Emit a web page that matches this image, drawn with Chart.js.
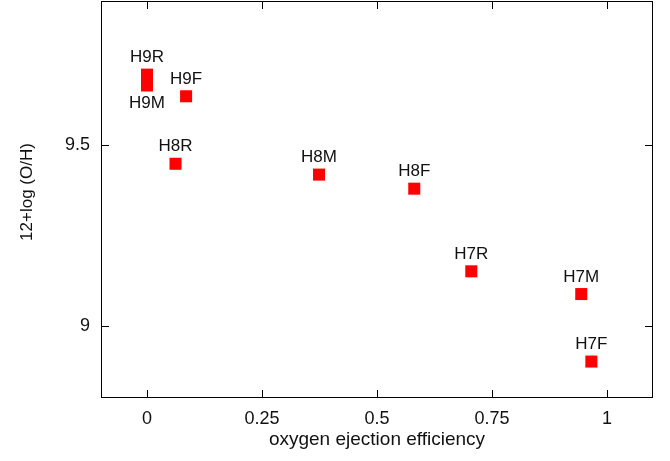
<!DOCTYPE html>
<html>
<head>
<meta charset="utf-8">
<script src="https://cdn.jsdelivr.net/npm/chart.js@4"></script>
<style>
  html, body { margin: 0; padding: 0; background: #fff; }
  #wrap { width: 670px; height: 461px; }
</style>
</head>
<body>
<div id="wrap"><canvas id="chart" width="670" height="461"></canvas></div>
<script>
// values
const runNames = ['H9R', 'H9M', 'H9F', 'H8R', 'H8M', 'H8F', 'H7R', 'H7M', 'H7F'];
const ejection = [0, 0, 0.085, 0.062, 0.374, 0.581, 0.705, 0.944, 0.966];
const oxygen = [9.696, 9.666, 9.636, 9.449, 9.419, 9.380, 9.151, 9.088, 8.901];
const labelBelow = [false, true, false, false, false, false, false, false, false];
const xTicks = [0, 0.25, 0.5, 0.75, 1];
const yTicks = [9, 9.5];

const FONT = '"Liberation Sans", Arial, sans-serif';

// frame, inward ticks on all four sides, axis titles and point labels
const gnuplotLook = {
  id: 'gnuplotLook',
  afterDatasetsDraw(chart) {
    const { ctx, scales: { x, y } } = chart;
    ctx.save();
    ctx.fillStyle = '#111';
    ctx.font = '17px ' + FONT;
    ctx.textAlign = 'center';
    ctx.textBaseline = 'middle';
    runNames.forEach((name, i) => {
      const px = x.getPixelForValue(ejection[i]);
      const py = y.getPixelForValue(oxygen[i]);
      ctx.fillText(name, px, labelBelow[i] ? py + 18 : py - 17);
    });
    ctx.restore();
  },
  afterDraw(chart) {
    const { ctx, chartArea: a, scales: { x, y } } = chart;
    ctx.save();
    ctx.strokeStyle = '#000';
    ctx.lineWidth = 1;
    ctx.strokeRect(a.left + 0.5, a.top + 0.5, a.right - a.left - 1, a.bottom - a.top - 1);
    const tk = 8;
    ctx.beginPath();
    xTicks.forEach(v => {
      const px = Math.round(x.getPixelForValue(v)) + 0.5;
      ctx.moveTo(px, a.bottom); ctx.lineTo(px, a.bottom - tk);
      ctx.moveTo(px, a.top); ctx.lineTo(px, a.top + tk);
    });
    yTicks.forEach(v => {
      const py = Math.round(y.getPixelForValue(v)) + 0.5;
      ctx.moveTo(a.left, py); ctx.lineTo(a.left + tk, py);
      ctx.moveTo(a.right, py); ctx.lineTo(a.right - tk, py);
    });
    ctx.stroke();

    ctx.fillStyle = '#111';
    ctx.textAlign = 'center';
    ctx.textBaseline = 'middle';
    ctx.font = '19px ' + FONT;
    ctx.fillText('oxygen ejection efficiency', (a.left + a.right) / 2, 440);
    ctx.translate(27, 192);
    ctx.rotate(-Math.PI / 2);
    ctx.font = '17px ' + FONT;
    ctx.fillText('12+log (O/H)', 0, 0);
    ctx.restore();
  }
};

new Chart(document.getElementById('chart'), {
  type: 'scatter',
  data: {
    datasets: [{
      data: ejection.map((v, i) => ({ x: v, y: oxygen[i] })),
      pointStyle: 'rect',
      pointRadius: 8.5,
      pointHoverRadius: 8.5,
      pointBorderWidth: 0,
      backgroundColor: '#ff0000',
      borderColor: '#ff0000'
    }]
  },
  options: {
    responsive: false,
    animation: false,
    layout: { autoPadding: false, padding: { top: 1, right: 17, left: 0, bottom: 0 } },
    plugins: {
      legend: { display: false },
      tooltip: { enabled: false }
    },
    scales: {
      x: {
        type: 'linear',
        min: -0.1,
        max: 1.1,
        afterBuildTicks: (s) => { s.ticks = xTicks.map(v => ({ value: v })); },
        afterFit: (s) => { s.height = 63; s.paddingLeft = 0; s.paddingRight = 0; },
        grid: { display: false, drawTicks: false },
        border: { display: false },
        ticks: {
          color: '#111',
          padding: 10,
          font: { family: FONT, size: 18 },
          callback: (v) => String(v)
        }
      },
      y: {
        type: 'linear',
        min: 8.8,
        max: 9.9,
        afterBuildTicks: (s) => { s.ticks = yTicks.map(v => ({ value: v })); },
        afterFit: (s) => { s.width = 101; s.paddingTop = 0; s.paddingBottom = 0; },
        grid: { display: false, drawTicks: false },
        border: { display: false },
        ticks: {
          color: '#111',
          padding: 11,
          font: { family: FONT, size: 18 },
          callback: (v) => String(v)
        }
      }
    }
  },
  plugins: [gnuplotLook]
});
</script>
</body>
</html>
